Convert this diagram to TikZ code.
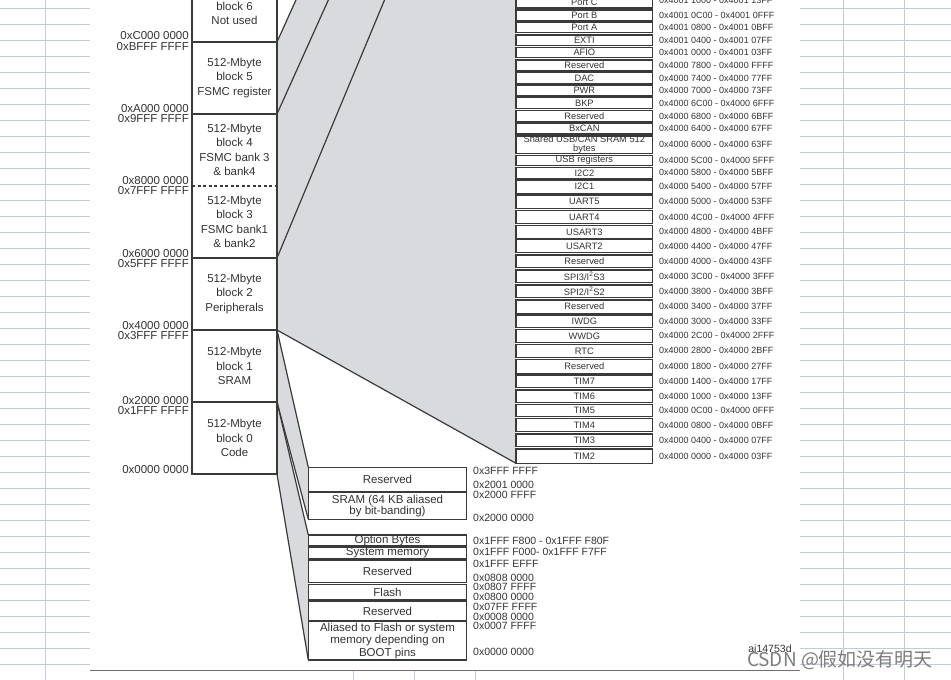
\documentclass[tikz,border=0pt]{standalone}
\usepackage{fontspec}
\setmainfont{Liberation Sans}
\newfontfamily\cjkfont{Noto Sans CJK SC}
\usetikzlibrary{backgrounds}
\definecolor{mapline}{HTML}{3A3A3A}
\definecolor{maptext}{HTML}{333333}
\definecolor{mapgray}{HTML}{D9DADD}
\definecolor{sheetgrid}{HTML}{C3CADC}
\definecolor{sheetedge}{HTML}{7A6A6A}
\definecolor{wmgray}{HTML}{7C7C7C}

\begin{document}
\begin{tikzpicture}[x=1pt,y=-1pt,
  blk/.style={minimum width=85pt,minimum height=72pt,inner sep=0pt,outer sep=0pt,align=center,text=maptext,font=\fontsize{11.5}{14.3}\selectfont},
  baddr/.style={anchor=east,inner sep=0pt,text=maptext,font=\fontsize{11.5}{12}\selectfont},
  pbox/.style={draw=mapline,line width=1.2pt,fill=white,minimum width=136.7pt,inner sep=0pt,outer sep=0pt,align=center,text=maptext,font=\fontsize{9.3}{9}\selectfont},
  paddr/.style={inner sep=0pt,xshift=6.3pt,text=maptext,font=\fontsize{9}{10}\selectfont},
  mbox/.style={draw=mapline,line width=1.2pt,fill=white,minimum width=158.4pt,inner sep=0pt,outer sep=0pt,align=center,text=maptext,font=\fontsize{11.5}{11.5}\selectfont},
  maddr/.style={anchor=west,inner sep=0pt,text=maptext,font=\fontsize{10.5}{11}\selectfont},
  funnel/.style={fill=mapgray},
  mapedge/.style={draw=mapline,line width=1.2pt}
]
  \useasboundingbox (0,0) rectangle (951,680);
  \clip (0,0) rectangle (951,680);

  % sheet behind the picture
  \foreach \r in {0,...,42} {
    \draw[sheetgrid] (0,8.3+16*\r) -- (90,8.3+16*\r);
    \draw[sheetgrid] (800,8.3+16*\r) -- (951,8.3+16*\r);
  }
  \draw[sheetgrid] (45.3,0) -- (45.3,680);
  \draw[sheetgrid] (843.3,0) -- (843.3,680);
  \draw[sheetgrid] (904.3,0) -- (904.3,680);
  \draw[sheetgrid] (353,671) -- (353,680);
  \draw[sheetgrid] (414,671) -- (414,680);
  \draw[sheetgrid] (475,671) -- (475,680);
  \draw[sheetedge,line width=1.5pt] (90,670.5) -- (800,670.5);

  % 4 GB column
  \node[blk] (b6) at (234.5,6) {512-Mbyte\\block 6\\Not used};
  \node[blk] (b5) at (234.5,78) {512-Mbyte\\block 5\\FSMC register};
  \node[blk] (b4) at (234.5,150) {512-Mbyte\\block 4\\FSMC bank 3\\\& bank4};
  \node[blk] (b3) at (234.5,222) {512-Mbyte\\block 3\\FSMC bank1\\\& bank2};
  \node[blk] (b2) at (234.5,294) {512-Mbyte\\block 2\\Peripherals};
  \node[blk] (b1) at (234.5,366) {512-Mbyte\\block 1\\SRAM};
  \node[blk] (b0) at (234.5,438) {512-Mbyte\\block 0\\Code};

  \coordinate (f6) at (298.2,-5);
  \coordinate (f5) at (330.6,-5);
  \coordinate (f2) at (386.6,-5);
  \coordinate (ftop) at (516,-5);

  % peripheral table
  \node[pbox,minimum height=11pt,label={[paddr,yshift=2pt]east:0x4001 1000 - 0x4001 13FF}] (portc) at (584.35,2.5) {Port C};
  \node[pbox,minimum height=11pt,label={[paddr]east:0x4001 0C00 - 0x4001 0FFF}] (portb) at (584.35,15.5) {Port B};
  \node[pbox,minimum height=10pt,label={[paddr]east:0x4001 0800 - 0x4001 0BFF}] (porta) at (584.35,27.5) {Port A};
  \node[pbox,minimum height=10.5pt,label={[paddr]east:0x4001 0400 - 0x4001 07FF}] (exti) at (584.35,40.25) {EXTI};
  \node[pbox,minimum height=10pt,label={[paddr]east:0x4001 0000 - 0x4001 03FF}] (afio) at (584.35,52.5) {AFIO};
  \node[pbox,minimum height=11pt,label={[paddr]east:0x4000 7800 - 0x4000 FFFF}] (resa) at (584.35,65.5) {Reserved};
  \node[pbox,minimum height=11pt,label={[paddr]east:0x4000 7400 - 0x4000 77FF}] (dac) at (584.35,78) {DAC};
  \node[pbox,minimum height=11pt,label={[paddr]east:0x4000 7000 - 0x4000 73FF}] (pwr) at (584.35,90.5) {PWR};
  \node[pbox,minimum height=11pt,label={[paddr]east:0x4000 6C00 - 0x4000 6FFF}] (bkp) at (584.35,103) {BKP};
  \node[pbox,minimum height=11pt,label={[paddr]east:0x4000 6800 - 0x4000 6BFF}] (resb) at (584.35,116) {Reserved};
  \node[pbox,minimum height=11pt,label={[paddr]east:0x4000 6400 - 0x4000 67FF}] (bxcan) at (584.35,128.5) {BxCAN};
  \node[pbox,minimum height=17.5pt,label={[paddr]east:0x4000 6000 - 0x4000 63FF}] (shram) at (584.35,144.75) {Shared USB/CAN SRAM 512\\bytes};
  \node[pbox,minimum height=10.4pt,label={[paddr]east:0x4000 5C00 - 0x4000 5FFF}] (usbreg) at (584.35,160.5) {USB registers};
  \node[pbox,minimum height=11pt,label={[paddr]east:0x4000 5800 - 0x4000 5BFF}] (itwo2) at (584.35,172.8) {I2C2};
  \node[pbox,minimum height=13.3pt,label={[paddr]east:0x4000 5400 - 0x4000 57FF}] (itwo1) at (584.35,186.65) {I2C1};
  \node[pbox,minimum height=13.3pt,label={[paddr]east:0x4000 5000 - 0x4000 53FF}] (uart5) at (584.35,201.65) {UART5};
  \node[pbox,minimum height=12.6pt,label={[paddr]east:0x4000 4C00 - 0x4000 4FFF}] (uart4) at (584.35,217) {UART4};
  \node[pbox,minimum height=13pt,label={[paddr]east:0x4000 4800 - 0x4000 4BFF}] (usart3) at (584.35,231.8) {USART3};
  \node[pbox,minimum height=13.2pt,label={[paddr]east:0x4000 4400 - 0x4000 47FF}] (usart2) at (584.35,246.1) {USART2};
  \node[pbox,minimum height=12.7pt,label={[paddr]east:0x4000 4000 - 0x4000 43FF}] (resc) at (584.35,261.35) {Reserved};
  \node[pbox,minimum height=12.7pt,label={[paddr]east:0x4000 3C00 - 0x4000 3FFF}] (spi3) at (584.35,276.35) {SPI3/I\textsuperscript{2}S3};
  \node[pbox,minimum height=12.7pt,label={[paddr]east:0x4000 3800 - 0x4000 3BFF}] (spi2) at (584.35,291.35) {SPI2/I\textsuperscript{2}S2};
  \node[pbox,minimum height=13.3pt,label={[paddr]east:0x4000 3400 - 0x4000 37FF}] (resd) at (584.35,306.65) {Reserved};
  \node[pbox,minimum height=12.3pt,label={[paddr]east:0x4000 3000 - 0x4000 33FF}] (iwdg) at (584.35,321.15) {IWDG};
  \node[pbox,minimum height=13pt,label={[paddr]east:0x4000 2C00 - 0x4000 2FFF}] (wwdg) at (584.35,335.8) {WWDG};
  \node[pbox,minimum height=13pt,label={[paddr]east:0x4000 2800 - 0x4000 2BFF}] (rtc) at (584.35,350.8) {RTC};
  \node[pbox,minimum height=14.7pt,label={[paddr]east:0x4000 1800 - 0x4000 27FF}] (rese) at (584.35,366.65) {Reserved};
  \node[pbox,minimum height=12pt,label={[paddr]east:0x4000 1400 - 0x4000 17FF}] (tim7) at (584.35,381.5) {TIM7};
  \node[pbox,minimum height=12.3pt,label={[paddr]east:0x4000 1000 - 0x4000 13FF}] (tim6) at (584.35,396.15) {TIM6};
  \node[pbox,minimum height=12pt,label={[paddr]east:0x4000 0C00 - 0x4000 0FFF}] (tim5) at (584.35,410.7) {TIM5};
  \node[pbox,minimum height=13pt,label={[paddr]east:0x4000 0800 - 0x4000 0BFF}] (tim4) at (584.35,425.2) {TIM4};
  \node[pbox,minimum height=12.7pt,label={[paddr]east:0x4000 0400 - 0x4000 07FF}] (tim3) at (584.35,440.35) {TIM3};
  \node[pbox,minimum height=14.3pt,label={[paddr]east:0x4000 0000 - 0x4000 03FF}] (tim2) at (584.35,456.15) {TIM2};

  % SRAM and code detail
  \node[mbox,minimum height=24.4pt] (lres1) at (387.5,479.5) {Reserved};
  \node[mbox,minimum height=27pt,font=\fontsize{11.5}{11}\selectfont] (lsram) at (387.5,505.8) {SRAM (64 KB aliased\\by bit-banding)};
  \node[mbox,minimum height=11pt] (lopt) at (387.5,540.5) {Option Bytes};
  \node[mbox,minimum height=11pt] (lsys) at (387.5,552.8) {System memory};
  \node[mbox,minimum height=22.7pt] (lres2) at (387.5,571.35) {Reserved};
  \node[mbox,minimum height=15.7pt] (lflash) at (387.5,592.15) {Flash};
  \node[mbox,minimum height=19pt] (lres3) at (387.5,611.2) {Reserved};
  \node[mbox,minimum height=38.3pt,font=\fontsize{11.5}{12.8}\selectfont] (lalias) at (387.5,640.85) {Aliased to Flash or system\\memory depending on\\BOOT pins};

  % funnels
  \begin{scope}[on background layer]
    \fill[funnel] (b5.north east) -- (f6) -- (ftop) -- (tim2.south west) -- (b2.south east) -- cycle;
    \fill[funnel] (b1.north east) -- (lres1.north west) -- (lsram.south west) -- (b1.south east) -- cycle;
    \fill[funnel] (b0.north east) -- (lopt.north west) -- (lalias.south west) -- (b0.south east) -- cycle;
  \end{scope}
  \draw[mapedge] (b6.south east) -- (f6);
  \draw[mapedge] (b5.south east) -- (f5);
  \draw[mapedge] (b2.north east) -- (f2);
  \draw[mapedge] (b2.south east) -- (tim2.south west);
  \draw[mapedge] (b1.north east) -- (lres1.north west);
  \draw[mapedge] (b1.south east) -- (lsram.south west);
  \draw[mapedge] (b0.north east) -- (lopt.north west);
  \draw[mapedge] (b0.south east) -- (lalias.south west);

  \draw[mapedge] (b6.north west) rectangle (b0.south east);
  \draw[mapedge] (b5.north west) -- (b5.north east);
  \draw[mapedge] (b4.north west) -- (b4.north east);
  \draw[mapedge,dash pattern=on 3pt off 2.5pt] (b3.north west) -- (b3.north east);
  \draw[mapedge] (b2.north west) -- (b2.north east);
  \draw[mapedge] (b1.north west) -- (b1.north east);
  \draw[mapedge] (b0.north west) -- (b0.north east);

  \node[baddr] (ac0) at (189,36) {0xC000 0000};
  \node[baddr] (abf) at (189,46.5) {0xBFFF FFFF};
  \node[baddr] (aa0) at (189,108.5) {0xA000 0000};
  \node[baddr] (a9f) at (189,118.5) {0x9FFF FFFF};
  \node[baddr] (a80) at (189,181) {0x8000 0000};
  \node[baddr] (a7f) at (189,191) {0x7FFF FFFF};
  \node[baddr] (a60) at (189,253.5) {0x6000 0000};
  \node[baddr] (a5f) at (189,264) {0x5FFF FFFF};
  \node[baddr] (a40) at (189,326) {0x4000 0000};
  \node[baddr] (a3f) at (189,336) {0x3FFF FFFF};
  \node[baddr] (a20) at (189,400.5) {0x2000 0000};
  \node[baddr] (a1f) at (189,411) {0x1FFF FFFF};
  \node[baddr] (a00) at (189,470) {0x0000 0000};

  \node[maddr] (m1) at (473,471) {0x3FFF FFFF};
  \node[maddr] (m2) at (473,485) {0x2001 0000};
  \node[maddr] (m3) at (473,495.3) {0x2000 FFFF};
  \node[maddr] (m4) at (473,518.3) {0x2000 0000};
  \node[maddr] (m5) at (473,540.7) {0x1FFF F800 - 0x1FFF F80F};
  \node[maddr] (m6) at (473,552.3) {0x1FFF F000- 0x1FFF F7FF};
  \node[maddr] (m7) at (473,564.3) {0x1FFF EFFF};
  \node[maddr] (m8) at (473,577.7) {0x0808 0000};
  \node[maddr] (m9) at (473,587) {0x0807 FFFF};
  \node[maddr] (m10) at (473,596.7) {0x0800 0000};
  \node[maddr] (m11) at (473,607) {0x07FF FFFF};
  \node[maddr] (m12) at (473,617) {0x0008 0000};
  \node[maddr] (m13) at (473,625.7) {0x0007 FFFF};
  \node[maddr] (m14) at (473,652.3) {0x0000 0000};

  \node[text=maptext,font=\fontsize{10.5}{11}\selectfont] (fig) at (770,649) {ai14753d};
  \node[text=wmgray,font=\cjkfont\fontsize{19}{19}\selectfont] (wm) at (840,660) {CSDN @假如没有明天};
\end{tikzpicture}
\end{document}
